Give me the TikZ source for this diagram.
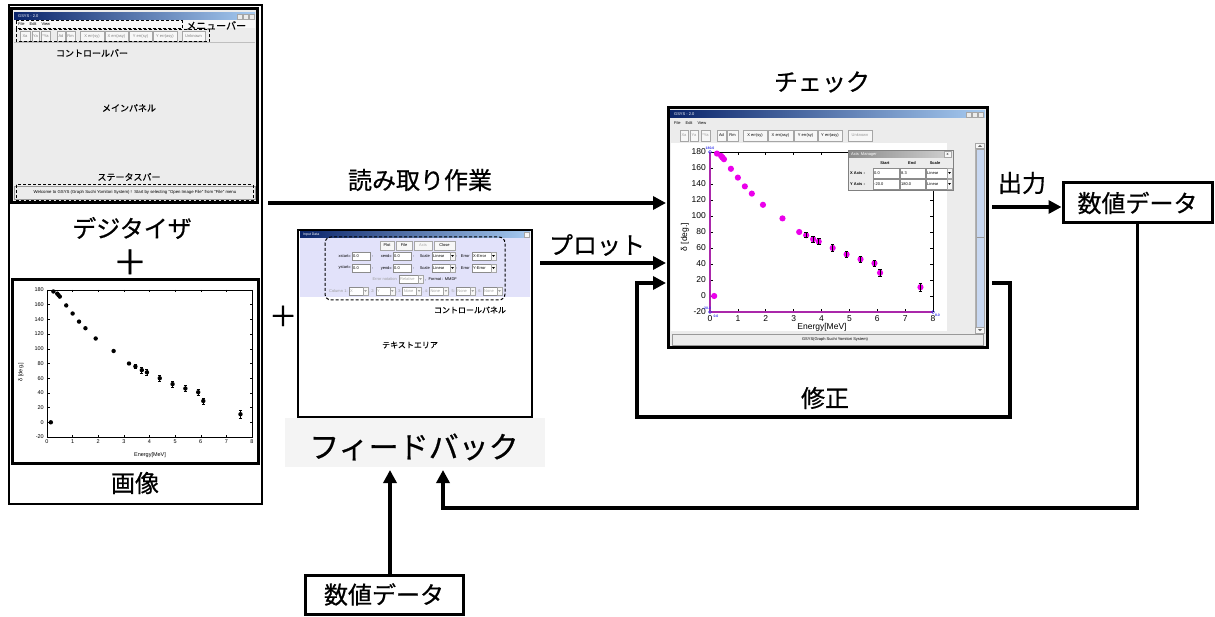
\documentclass[tikz,border=0pt]{standalone}
\usepackage{fontspec}
\setmainfont{Noto Sans CJK JP}[FakeBold=0.6]
\newfontfamily\uifont{Liberation Sans}
\usetikzlibrary{arrows.meta,calc}
\definecolor{tbdark}{RGB}{10,36,106}
\definecolor{tblight}{RGB}{166,202,240}
\definecolor{panelgray}{RGB}{236,236,236}
\definecolor{lav}{RGB}{226,226,250}
\definecolor{mag}{RGB}{235,0,235}
\definecolor{axmag}{RGB}{170,40,170}
\definecolor{blu}{RGB}{50,50,235}
\definecolor{fbbg}{RGB}{244,244,244}
\definecolor{scrollb}{RGB}{200,216,242}
\tikzset{
 ui/.style={font=\uifont\fontsize{4}{4.5}\selectfont, inner sep=0pt},
 uig/.style={ui, text=black!38},
 btn/.style={draw=black!35, fill=black!3, line width=0.3pt},
 field/.style={draw=black!45, fill=white, line width=0.3pt},
 dbox/.style={draw, line width=1pt, dash pattern=on 3pt off 2pt},
 big/.style={font=\fontsize{24}{24}\selectfont, inner sep=0pt},
 mid/.style={font=\fontsize{9}{9}\selectfont, inner sep=0pt},
 arr/.style={line width=3.3pt, -{Triangle[length=13pt,width=13pt]}},
 winframe/.style={draw, line width=3pt, anchor=north west, inner sep=0pt, outer sep=0pt},
 tickl/.style={font=\uifont\fontsize{5.5}{6}\selectfont, inner sep=0pt},
 tickc/.style={font=\uifont\fontsize{8.5}{9}\selectfont, inner sep=0pt},
 databox/.style={draw, line width=3pt, font=\fontsize{24}{24}\selectfont, inner sep=0pt},
}
\newcommand\uibtn[6][black]{\draw[btn] ({#2},{#4}) rectangle ({#3},{#5}); \node[ui,text=#1] at ({(#2+#3)/2},{(#4+#5)/2}) {#6};}
\newcommand\uifield[5]{\draw[field] ({#1},{#3}) rectangle ({#2},{#4}); \node[ui,anchor=west] at ({#1+1},{(#3+#4)/2}) {#5};}
\newcommand\uicombo[6][black]{\draw[field] ({#2},{#4}) rectangle ({#3},{#5}); \node[ui,text=#1,anchor=west] at ({#2+1},{(#4+#5)/2}) {#6}; \draw[btn] ({#3-5},{#4}) rectangle ({#3},{#5}); \fill[#1] ({#3-3.8},{(#4+#5)/2-0.8}) -- ({#3-1.2},{(#4+#5)/2-0.8}) -- ({#3-2.5},{(#4+#5)/2+0.9}) -- cycle;}
\begin{document}
\begin{tikzpicture}[x=1pt,y=-1pt]
\useasboundingbox (0,0) rectangle (1215,617);
\fill[white] (0,0) rectangle (1215,617);

% ================= left: digitizer + image =================
\node[draw, line width=1.8pt, minimum width=253pt, minimum height=499pt, anchor=north west, inner sep=0pt, outer sep=0pt] (digit) at (9,5) {};

% --- window 1
\fill[panelgray] (12,9) rectangle (257,202);
\shade[left color=tbdark, right color=tblight] (14,13) rectangle (255,20);
\node[ui,text=white,anchor=west] at (18,16.5) {GSYS - 2.0};
\foreach \xx in {237,243,249} \draw[btn, fill=panelgray] (\xx,14) rectangle (\xx+5,19);
\fill[black!3] (14,20) rectangle (255,28);
\node[ui,anchor=west] at (18,24.5) {File\hspace{5pt}Edit\hspace{5pt}View};
\uibtn[black!50]{20}{30}{31}{41}{Xa}
\uibtn[black!50]{32}{39}{31}{41}{Ya}
\uibtn[black!50]{41}{50}{31}{41}{*Ya}
\uibtn[black!50]{57}{65}{31}{41}{Ad}
\uibtn[black!50]{66}{75}{31}{41}{Rm}
\uibtn[black!50]{80}{104}{31}{41}{X err(sy)}
\uibtn[black!50]{105}{128}{31}{41}{X err(asy)}
\uibtn[black!50]{129}{152}{31}{41}{Y err(sy)}
\uibtn[black!50]{153}{177}{31}{41}{Y err(asy)}
\uibtn[black!50]{182}{205}{31}{41}{Unknown}
\draw[black!25] (14,42.5) -- (255,42.5);
\draw[black!40, fill=panelgray] (14,186) rectangle (255,199);
\node[ui, font=\uifont\fontsize{4.3}{4.5}\selectfont] (status1) at (135,192.5) {Welcome to GSYS (Graph Suchi Yomitori System) !\ \ Start by selecting "Open Image File" from "File" menu};
\node[winframe, minimum width=246pt, minimum height=194pt] (win1) at (11,9) {};
\draw[dbox] (16,21) rectangle (182,29);
\draw[dbox] (16,29.5) rectangle (209,42);
\draw[dbox] (16,185) rectangle (253,200.5);
\node[font=\fontsize{10}{10}\selectfont, inner sep=0pt, anchor=west] (lmenu) at (186,25.5) {メニューバー};
\node[mid] (lctl) at (92,53) {コントロールバー};
\node[mid] (lmain) at (129,108) {メインパネル};
\node[mid] (lstat) at (129,177) {ステータスバー};

\node[big] (ldig) at (132,228) {デジタイザ};
\node[font=\fontsize{34}{34}\selectfont, inner sep=0pt] (plus1) at (130,262) {＋};

% --- image plot
\node[winframe, minimum width=246pt, minimum height=183pt] (img) at (12,280) {};
\begin{scope}[shift={(47pt,-437pt)}, x=25.625pt, y=0.735pt]
 \draw[line width=0.6pt] (0,0) rectangle (8,200);
 \foreach \i in {0,...,8} {
   \draw[line width=0.5pt] (\i,0) -- ++(0pt,2.5pt) (\i,200) -- ++(0pt,-2.5pt);
   \node[tickl, below=2.5pt] at (\i,0) {\i};
 }
 \foreach \v in {-20,0,...,180} {
   \draw[line width=0.5pt] (0,{\v+20}) -- ++(2.5pt,0pt) (8,{\v+20}) -- ++(-2.5pt,0pt);
   \node[tickl, left=3pt] at (0,{\v+20}) {\v};
 }
 \foreach \e/\d in {0.15/0,0.25/178,0.4/175,0.45/173,0.5/171,0.75/159,1/148,1.25/137,1.5/128,1.9/114,2.6/97,3.2/80}
   \fill ({\e},{\d+20}) circle[radius=2.2pt];
 \foreach \e/\d/\er in {3.45/76/3,3.7/71/4,3.9/68/4,4.4/60/4,4.9/52/4,5.4/46/4,5.9/41/4,6.1/29/4,7.55/11/5} {
   \fill ({\e},{\d+20}) circle[radius=2.2pt];
   \draw[line width=0.7pt] ({\e},{\d+20-\er}) -- ({\e},{\d+20+\er});
   \draw[line width=0.7pt] ({\e},{\d+20-\er}) ++(-1.5pt,0pt) -- ++(3pt,0pt);
   \draw[line width=0.7pt] ({\e},{\d+20+\er}) ++(-1.5pt,0pt) -- ++(3pt,0pt);
 }
\end{scope}
\node[tickl, rotate=90] (imgylab) at (21,372) {δ [deg.]};
\node[tickl] (imgxlab) at (150,455) {Energy[MeV]};
\node[big] (limg) at (135,483) {画像};

% ================= input data window =================
\fill[white] (299,231) rectangle (531,416);
\shade[left color=tbdark, right color=tblight] (300,232) rectangle (530,238);
\node[ui,text=white,anchor=west, font=\uifont\fontsize{3.5}{4}\selectfont] at (303,235) {Input Data};
\draw[btn] (524,232.5) rectangle (529,237.5);
\fill[lav] (300,238) rectangle (530,297);
\uibtn{380}{394}{241}{250}{Plot}
\uibtn{396}{412}{241}{250}{File}
\uibtn[black!35]{414}{432}{241}{250}{Axis}
\uibtn{434}{455}{241}{250}{Close}
% row 2
\node[ui,anchor=east] at (351,256) {xstart=};
\uifield{352}{370}{252}{260}{0.0}
\node[ui] at (373,257) {,};
\node[ui,anchor=east] at (392,256) {xend=};
\uifield{393}{411}{252}{260}{0.0}
\node[ui] at (414,257) {,};
\node[ui,anchor=east] at (430,256) {Scale};
\uicombo{432}{455}{252}{260}{Linear}
\node[ui] at (457,257) {,};
\node[ui,anchor=east] at (470,256) {Error};
\uicombo{472}{496}{252}{260}{X-Error}
% row 3
\node[ui,anchor=east] at (351,268) {ystart=};
\uifield{352}{370}{264}{272}{0.0}
\node[ui] at (373,269) {,};
\node[ui,anchor=east] at (392,268) {yend=};
\uifield{393}{411}{264}{272}{0.0}
\node[ui] at (414,269) {,};
\node[ui,anchor=east] at (430,268) {Scale};
\uicombo{432}{455}{264}{272}{Linear}
\node[ui] at (457,269) {,};
\node[ui,anchor=east] at (470,268) {Error};
\uicombo{472}{496}{264}{272}{Y-Error}
% row 4
\node[uig,anchor=east] at (397,279) {Error notation};
\uicombo[black!35]{399}{423}{275}{283}{Relative}
\node[ui,anchor=west] at (425,279.5) {,\ \ Format : MMDF};
% row 5
\node[uig,anchor=west] at (329,291) {Column};
\foreach \k/\lab in {1/X,2/Y,3/None,4/None,5/None,6/None} {
  \pgfmathsetmacro\xa{349+26.8*(\k-1)}
  \uicombo[black!35]{\xa}{\xa+19}{287}{295}{\lab}
  \node[uig,anchor=east] at (\xa-1,291) {\ifnum\k>1 ,\ \fi\k:};
}
\node[winframe, minimum width=234pt, minimum height=187pt, line width=2.5pt] (inwin) at (298,230) {};
\draw[dbox, rounded corners=6pt] (325,237) rectangle (505,300);
\node[font=\fontsize{8}{8}\selectfont, inner sep=0pt] (lcp) at (470,310) {コントロールパネル};
\node[font=\fontsize{8}{8}\selectfont, inner sep=0pt] (lta) at (410,345) {テキストエリア};

% feedback
\fill[fbbg] (285,418) rectangle (545,467);
\node[font=\fontsize{30}{30}\selectfont, inner sep=0pt] (fb) at (414,447) {フィードバック};
\coordinate (fbin1) at (390,470);
\coordinate (fbin2) at (443,470);
\coordinate (fbturn) at (443,508);

% ================= check window =================
\fill[panelgray] (669,109) rectangle (986,347);
\shade[left color=tbdark, right color=tblight] (670,111) rectangle (985,118);
\node[ui,text=white,anchor=west] at (674,114.5) {GSYS - 2.0};
\foreach \xx in {966,972,978} \draw[btn, fill=panelgray] (\xx,112) rectangle (\xx+5,117);
\node[ui,anchor=west] at (674,123) {File\hspace{5pt}Edit\hspace{5pt}View};
\uibtn[black!40]{680}{688}{130}{141}{Xa}
\uibtn[black!40]{690}{698}{130}{141}{Ya}
\uibtn[black!40]{701}{710}{130}{141}{*Ya}
\uibtn{717}{726}{130}{141}{Ad}
\uibtn{727}{738}{130}{141}{Rm}
\uibtn{743}{767}{130}{141}{X err(sy)}
\uibtn{768}{793}{130}{141}{X err(asy)}
\uibtn{794}{817}{130}{141}{Y err(sy)}
\uibtn{818}{842}{130}{141}{Y err(asy)}
\uibtn[black!40]{848}{872}{130}{141}{Unknown}
\fill[white] (671,143) rectangle (947,331);
\draw[black!30] (975,143) -- (975,331);
\fill[scrollb] (976.5,149) rectangle (984,327);
\draw[black!35] (976.5,149) rectangle (984,327);
\draw[black!40] (977,237) -- (983.5,237);
\draw[btn] (975.5,143) rectangle (984.5,148.5);
\draw[btn] (975.5,327.5) rectangle (984.5,333);
\fill[black!60] (978,146.8) -- (982,146.8) -- (980,144.8) -- cycle;
\fill[black!60] (978,329.2) -- (982,329.2) -- (980,331.2) -- cycle;
\draw[black!40, fill=panelgray] (672,334) rectangle (983,345);
\node[ui] (status2) at (835,339.5) {GSYS(Graph Suchi Yomitori System)};

\begin{scope}[shift={(710pt,-312pt)}, x=27.875pt, y=0.8pt]
 \draw[line width=0.9pt] (0,200) -- (8,200) -- (8,0);
 \foreach \i in {0,...,8} {
   \draw[line width=0.7pt] (\i,0) -- ++(0pt,3pt) (\i,200) -- ++(0pt,-3pt);
   \node[tickc, below=3pt] at (\i,0) {\i};
 }
 \foreach \v in {-20,0,...,180} {
   \draw[line width=0.7pt] (0,{\v+20}) -- ++(3pt,0pt) (8,{\v+20}) -- ++(-3pt,0pt);
   \node[tickc, left=4pt] at (0,{\v+20}) {\v};
 }
 \draw[axmag, line width=1.3pt] (0,200) -- (0,0) -- (8,0);
 \foreach \e/\d in {0.15/0,0.25/178,0.4/175,0.45/173,0.5/171,0.75/159,1/148,1.25/137,1.5/128,1.9/114,2.6/97,3.2/80}
   \fill[mag] ({\e},{\d+20}) circle[radius=3.1pt];
 \foreach \e/\d/\er in {3.45/76/3,3.7/71/4,3.9/68/4,4.4/60/4,4.9/52/4,5.4/46/4,5.9/41/4,6.1/29/4,7.55/11/5} {
   \fill[mag] ({\e},{\d+20}) circle[radius=3.1pt];
   \draw[line width=0.6pt] ({\e},{\d+20-\er}) -- ({\e},{\d+20+\er});
   \draw[line width=0.6pt] ({\e},{\d+20-\er}) ++(-1.8pt,0pt) -- ++(3.6pt,0pt);
   \draw[line width=0.6pt] ({\e},{\d+20+\er}) ++(-1.8pt,0pt) -- ++(3.6pt,0pt);
 }
 \foreach \p in {(0,200),(0,0),(8,0)} \draw[blu, line width=0.5pt] \p circle[radius=1.6pt];
 \node[ui, text=blu, font=\uifont\fontsize{3.5}{4}\selectfont\bfseries] at ([shift={(0pt,3.5pt)}]0,200) {180.0};
 \node[ui, text=blu, font=\uifont\fontsize{3.5}{4}\selectfont\bfseries] at ([shift={(-3pt,3.5pt)}]0,0) {-20.0};
 \node[ui, text=blu, font=\uifont\fontsize{3.5}{4}\selectfont\bfseries] at ([shift={(6pt,-4pt)}]0,0) {0.0};
 \node[ui, text=blu, font=\uifont\fontsize{3.5}{4}\selectfont\bfseries] at ([shift={(4.5pt,-3pt)}]8,0) {8.0};
\end{scope}
\node[tickc, rotate=90] (chkylab) at (685,237) {δ [deg.]};
\node[tickc] (chkxlab) at (822,327.5) {Energy[MeV]};

% axis manager
\fill[panelgray] (848,150) rectangle (953,190);
\shade[left color=black!45, right color=black!18] (849,151) rectangle (952,158);
\node[ui,text=white,anchor=west] at (851,154.5) {Axis\ \ Manager};
\uibtn{944}{951}{151.5}{157.5}{x}
\node[ui] at (885,163) {\bfseries Start};
\node[ui] at (912,163) {\bfseries End};
\node[ui] at (935,163) {\bfseries Scale};
\node[ui,anchor=west] at (850,173) {\bfseries X Axis :};
\uifield{873}{899}{168}{178}{0.0}
\uifield{900}{925}{168}{178}{8.3}
\uicombo{926}{952}{168}{178}{Linear}
\node[ui,anchor=west] at (850,184) {\bfseries Y Axis :};
\uifield{873}{899}{179}{189}{-20.0}
\uifield{900}{925}{179}{189}{180.0}
\uicombo{926}{952}{179}{189}{Linear}
\draw[black!50, line width=0.4pt] (848,150) rectangle (953,190);

\node[winframe, minimum width=319pt, minimum height=240pt] (check) at (668,108) {};

% ================= data boxes and labels =================
\node[databox, minimum width=149pt, minimum height=40pt] (outR) at (1137.5,203) {数値データ};
\node[databox, minimum width=158pt, minimum height=39pt] (outB) at (384,594.5) {数値データ};

\node[big] (lread) at (420,180) {読み取り作業};
\node[big] (lplot) at (597,245) {プロット};
\node[big] (lcheck) at (822,82) {チェック};
\node[big] (lout) at (1022,183) {出力};
\node[big] (lfix) at (825,398) {修正};
\node[font=\fontsize{28}{28}\selectfont, inner sep=0pt] (plus2) at (283,316) {＋};

% ================= connectors =================
\draw[arr, shorten <=6pt, shorten >=2pt] (digit.east |- 0,203) -- (check.west |- 0,203);
\draw[arr, shorten <=8pt, shorten >=2pt] (inwin.east |- 0,263) -- (check.west |- 0,263);
\coordinate (m1) at (1010,417);
\coordinate (m2) at (637,417);
\draw[arr, shorten <=5pt, shorten >=2pt] (check.east |- 0,283) -| (m1) -- (m2) |- (check.west |- 0,283);
\draw[arr, shorten <=5pt] (check.east |- 0,207) -- (outR.west |- 0,207);
\draw[arr] (outR.south) |- (fbturn) -- (fbin2);
\draw[arr] (outB.north -| fbin1) -- (fbin1);
\end{tikzpicture}
\end{document}
